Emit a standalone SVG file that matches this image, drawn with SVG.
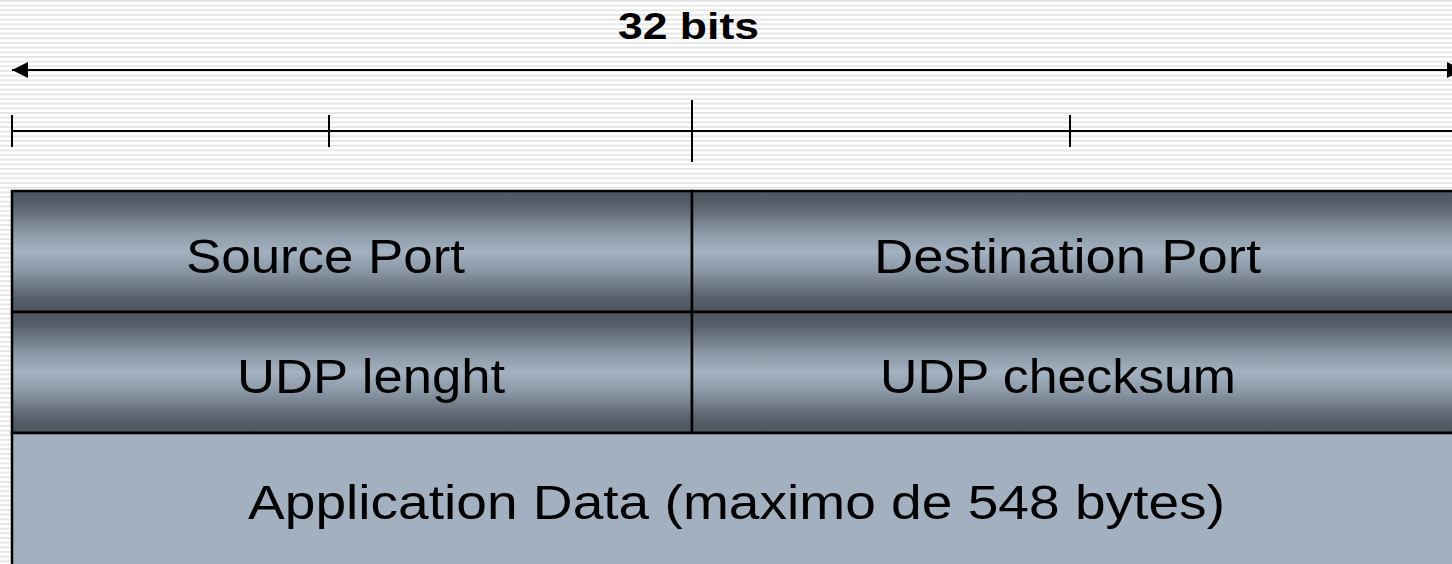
<svg xmlns="http://www.w3.org/2000/svg" width="1452" height="564" viewBox="0 0 1452 564">
  <defs>
    <pattern id="stripes" x="0" y="0" width="10" height="4.67" patternUnits="userSpaceOnUse">
      <rect x="0" y="0" width="10" height="4.67" fill="#ffffff"/>
      <rect x="0" y="0" width="10" height="1.7" fill="#e4e4e4"/>
    </pattern>
    <linearGradient id="rowGrad" x1="0" y1="0" x2="0" y2="1">
      <stop offset="0" stop-color="#4b535c"/>
      <stop offset="0.12" stop-color="#59626c"/>
      <stop offset="0.35" stop-color="#8c99a7"/>
      <stop offset="0.5" stop-color="#a3b1c0"/>
      <stop offset="0.65" stop-color="#8c99a7"/>
      <stop offset="0.88" stop-color="#59626c"/>
      <stop offset="1" stop-color="#4b535c"/>
    </linearGradient>
    <marker id="arrowHead" markerWidth="16" markerHeight="16" refX="16" refY="8" orient="auto-start-reverse" markerUnits="userSpaceOnUse" viewBox="0 0 16 16">
      <path d="M0,0 L16,8 L0,16 Z" fill="#000"/>
    </marker>
    <style>
      .lbl { font-family: "Liberation Sans", Arial, sans-serif; font-size: 48px; fill: #000; text-anchor: middle; }
      .title { font-family: "Liberation Sans", Arial, sans-serif; font-size: 37px; font-weight: bold; fill: #000; text-anchor: middle; }
      .ln { stroke: #000; stroke-width: 2; fill: none; }
      .cell { stroke: #000; stroke-width: 2.5; }
    </style>
  </defs>

  <rect x="0" y="0" width="1452" height="564" fill="url(#stripes)"/>

  <g id="title">
    <text class="title" x="688.5" y="39" textLength="141" lengthAdjust="spacingAndGlyphs">32 bits</text>
  </g>

  <g id="connectors">
    <line class="ln" x1="12" y1="70" x2="1463" y2="70" marker-start="url(#arrowHead)" marker-end="url(#arrowHead)"/>
    <line class="ln" x1="12" y1="131" x2="1452" y2="131"/>
    <line class="ln" x1="12" y1="115" x2="12" y2="147"/>
    <line class="ln" x1="329" y1="115" x2="329" y2="147"/>
    <line class="ln" x1="692" y1="100" x2="692" y2="162"/>
    <line class="ln" x1="1070" y1="115" x2="1070" y2="147"/>
  </g>

  <g id="source-port">
    <rect class="cell" x="12" y="191" width="680" height="121" fill="url(#rowGrad)"/>
    <text class="lbl" x="325.5" y="273" textLength="279" lengthAdjust="spacingAndGlyphs">Source Port</text>
  </g>
  <g id="destination-port">
    <rect class="cell" x="692" y="191" width="780" height="121" fill="url(#rowGrad)"/>
    <text class="lbl" x="1067.5" y="273" textLength="387" lengthAdjust="spacingAndGlyphs">Destination Port</text>
  </g>
  <g id="udp-length">
    <rect class="cell" x="12" y="312" width="680" height="121" fill="url(#rowGrad)"/>
    <text class="lbl" x="371" y="393" textLength="268" lengthAdjust="spacingAndGlyphs">UDP lenght</text>
  </g>
  <g id="udp-checksum">
    <rect class="cell" x="692" y="312" width="780" height="121" fill="url(#rowGrad)"/>
    <text class="lbl" x="1058" y="393" textLength="356" lengthAdjust="spacingAndGlyphs">UDP checksum</text>
  </g>
  <g id="application-data">
    <rect class="cell" x="12" y="433" width="1460" height="160" fill="#a2b0bf"/>
    <text class="lbl" x="736.5" y="519" textLength="977" lengthAdjust="spacingAndGlyphs">Application Data (maximo de 548 bytes)</text>
  </g>
</svg>
